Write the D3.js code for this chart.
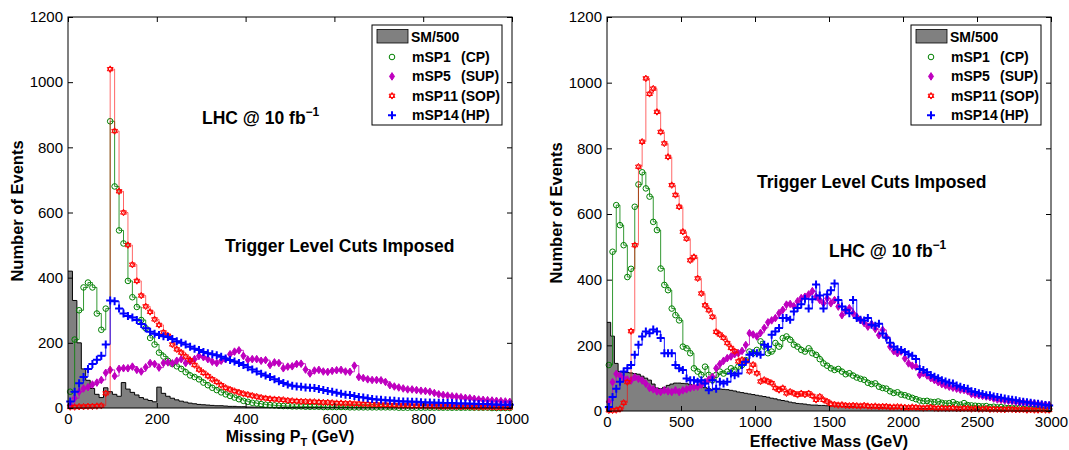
<!DOCTYPE html>
<html>
<head>
<meta charset="utf-8">
<title>Missing PT and Effective Mass</title>
<style>
  body { margin: 0; background: #fff; font-family: "Liberation Sans", Arial, Helvetica, sans-serif; }
  svg { display: block; }
</style>
</head>
<body>
<svg id="chart"></svg>
<script src="https://cdn.jsdelivr.net/npm/d3@7"></script>
<script>
// bin widths in GeV
var ptBinWidth = 10;
var meffBinWidth = 25;

var countTicks = [0, 200, 400, 600, 800, 1000, 1200];
var ptTicks = [0, 200, 400, 600, 800, 1000];
var meffTicks = [0, 500, 1000, 1500, 2000, 2500, 3000];

// Missing PT, 10 GeV bins
var ptSM = [420,330,200,120,85,60,42,32,62,50, 42,36,78,58,48,40,32,27,23,19,
  64,45,36,30,25,21,18,15,13,11, 10,9,8,7,7,6,5,5,4,4, 3,3,3,3,2,2,2,2,2,2,
  1,1,1,1,1,1,1,1,1,1, 1,1,1,1,1,1,1,1,1,1, 1,1,1,1,1,1,1,1,1,1,
  1,1,1,1,1,1,1,1,1,1, 1,1,1,1,1,1,1,1,1,1];
var ptSP1 = [50,210,300,370,385,370,290,240,305,880, 680,545,505,390,340,310,270,245,215,195,
  170,158,145,135,128,120,110,100,95,88, 78,70,62,55,48,42,37,32,27,22,
  19,16,14,12,10,9,8,7,6,6, 5,5,5,4,4,4,4,3,3,3, 3,3,3,2,2,2,2,2,2,2,
  2,2,2,2,1,1,1,1,1,1, 1,1,1,1,1,1,1,1,1,1, 1,1,1,1,1,0,0,0,0,0];
var ptSP5 = [10,30,50,60,64,72,78,86,108,117, 98,120,122,122,127,117,112,125,138,135,
  124,138,140,137,145,150,138,143,150,160, 156,150,142,138,145,150,165,173,177,160,
  148,150,150,145,147,132,140,138,122,127, 128,135,136,118,106,115,117,112,111,114,
  116,117,112,111,130,95,92,88,86,86, 85,80,70,66,63,60,57,57,55,53,
  52,50,46,42,40,38,36,35,33,31, 30,28,26,25,24,23,22,21,20,19];
var ptSP11 = [3,3,4,4,5,5,6,7,45,1040, 850,665,600,500,440,390,345,312,295,272,
  255,232,222,195,180,170,158,147,132,118, 108,98,88,80,70,62,57,52,48,44,
  41,38,35,32,30,28,27,26,25,23, 22,21,20,20,19,19,18,17,17,16,
  15,15,14,14,13,13,12,12,11,11, 10,10,9,9,8,8,8,7,7,7,
  6,6,6,5,5,5,5,4,4,4, 4,3,3,3,3,3,2,2,2,2];
var ptSP14 = [20,50,76,95,120,135,148,160,195,330, 328,305,290,282,278,270,258,245,234,228,
  224,220,218,212,205,200,195,188,182,178, 172,168,165,162,157,152,147,143,138,132,
  125,118,112,105,100,95,88,82,77,72, 68,66,65,63,62,61,58,55,52,50,
  47,44,41,40,37,34,32,30,28,26, 25,24,23,22,21,20,20,19,19,18,
  17,17,16,16,15,15,15,14,14,14, 13,13,12,12,12,11,11,10,10,10];

// Effective mass, 25 GeV bins
var meffSM = [270,228,145,120,118,117,116,114,112,106, 100,94,82,70,68,72,78,82,85,85,
  84,83,80,78,77,74,71,68,66,66, 67,66,65,63,61,58,56,54,52,50,
  48,46,44,42,39,37,34,32,30,27, 25,23,22,21,19,18,18,17,17,16,
  16,15,15,14,14,13,13,12,12,11, 11,11,10,10,10,9,9,9,9,8,
  8,8,8,7,7,7,7,7,6,6, 6,6,6,5,5,5,5,5,5,4,
  4,4,4,4,4,4,3,3,3,3, 3,3,3,3,3,3,2,2,2,2];
var meffSP1 = [140,485,627,566,505,408,433,622,690,727, 678,653,576,551,434,384,368,312,292,276,
  196,191,176,130,120,110,135,110,94,110, 120,114,120,130,125,135,140,155,181,176,
  186,212,196,176,181,207,196,222,227,217, 202,196,186,181,191,176,171,158,145,138,
  130,125,128,120,112,115,108,102,98,95, 86,82,84,74,70,68,60,55,57,50,
  48,44,40,36,32,30,31,28,27,29, 25,23,24,27,21,19,24,18,17,16,
  15,14,15,12,13,11,12,10,9,10, 8,9,7,8,7,6,6,5,6,5];
var meffSP5 = [28,88,113,108,100,96,93,103,98,93, 83,70,66,60,58,63,60,58,63,58,
  63,66,70,73,74,80,88,96,104,130, 143,153,161,166,173,176,183,201,237,233,
  227,238,253,270,276,283,298,308,324,326, 319,334,344,348,355,365,348,338,328,343,
  328,338,318,292,305,313,298,287,277,268, 257,265,250,231,247,225,196,182,176,181,
  160,145,138,135,110,115,108,100,94,88, 82,78,74,71,68,65,64,60,52,50,
  48,46,44,42,38,35,34,32,31,30, 28,27,26,25,24,23,21,20,19,18];
var meffSP11 = [2,2,3,6,25,88,243,505,744,820, 1013,966,982,911,850,815,774,688,658,622,
  546,525,459,469,404,358,322,307,287,241, 233,223,207,192,182,151,156,151,121,141,
  115,90,95,90,85,70,64,70,54,59, 54,49,54,50,54,46,34,44,34,29,
  22,20,18,19,17,16,17,16,15,17, 15,14,15,13,14,14,12,12,13,12,
  11,10,12,11,10,9,10,11,9,8, 9,8,8,9,7,7,8,8,6,7,
  6,6,7,5,6,5,5,4,6,5, 4,4,5,3,4,3,3,4,3,3];
var meffSP14 = [12,43,68,89,120,130,140,171,202,227, 242,237,248,242,222,176,176,176,140,130,
  125,99,94,94,89,94,84,63,94,68, 89,84,89,114,109,114,140,150,171,176,
  176,171,202,196,232,242,253,283,283,278, 303,314,325,342,312,340,385,352,312,355,
  368,388,338,318,308,298,338,283,278,276, 283,263,260,266,236,223,208,196,188,186,
  180,173,168,158,128,125,118,110,104,100, 94,90,86,84,78,74,70,68,60,58,
  54,52,48,48,44,43,40,38,36,34, 33,30,28,27,25,23,22,20,18,17];

var fontFam = "'Liberation Sans', Arial, Helvetica, sans-serif";

var seriesStyle = [
  { name: "mSP1", kind: "(CP)", color: "#008000", marker: "circle", opacity: 0.8 },
  { name: "mSP5", kind: "(SUP)", color: "#bf00bf", marker: "diamond", opacity: 0.8 },
  { name: "mSP11", kind: "(SOP)", color: "#ff0000", marker: "hexagram", opacity: 0.6 },
  { name: "mSP14", kind: "(HP)", color: "#0000ff", marker: "plus", opacity: 0.9 }
];

var panels = [
  { id: "pt", x0: 68, x1: 512, y0: 17, y1: 408, xMax: 1000, xTicks: ptTicks, binW: ptBinWidth,
    sm: ptSM, series: [ptSP1, ptSP5, ptSP11, ptSP14] },
  { id: "meff", x0: 607, x1: 1051, y0: 17, y1: 411, xMax: 3000, xTicks: meffTicks, binW: meffBinWidth,
    sm: meffSM, series: [meffSP1, meffSP5, meffSP11, meffSP14] }
];

var svg = d3.select("#chart").attr("width", 1069).attr("height", 450);
svg.append("rect").attr("width", 1069).attr("height", 450).attr("fill", "#fff");

panels.forEach(function (p) { drawPanel(p); });

function markerPath(kind) {
  if (kind == "diamond") return "M0,-3.8L2.5,0L0,3.8L-2.5,0Z";
  if (kind == "hexagram") return "M0,-3.3L2.9,1.65L-2.9,1.65ZM0,3.3L2.9,-1.65L-2.9,-1.65Z";
  if (kind == "plus") return "M-4,0H4M0,-4V4";
  return null;
}

function addMarkers(sel, s) {
  if (s.marker == "circle") {
    sel.append("circle").attr("r", 2.8)
      .attr("fill", "none").attr("stroke", s.color).attr("stroke-width", 1);
  } else {
    sel.append("path").attr("d", markerPath(s.marker))
      .attr("fill", s.marker == "diamond" ? s.color : "none")
      .attr("stroke", s.color)
      .attr("stroke-width", s.marker == "plus" ? 2 : 1);
  }
}

function drawPanel(p) {
  var x = d3.scaleLinear().domain([0, p.xMax]).range([p.x0, p.x1]);
  var y = d3.scaleLinear().domain([0, 1200]).range([p.y1, p.y0]);
  var g = svg.append("g");

  var clipId = "clip-" + p.id;
  svg.append("clipPath").attr("id", clipId).append("rect")
    .attr("x", p.x0).attr("y", p.y0)
    .attr("width", p.x1 - p.x0).attr("height", p.y1 - p.y0);

  // SM/500 filled stairs
  var smPts = p.sm.map(function (v, i) { return [i * p.binW, v]; });
  smPts.push([p.sm.length * p.binW, p.sm[p.sm.length - 1]]);
  g.append("path").datum(smPts)
    .attr("clip-path", "url(#" + clipId + ")")
    .attr("fill", "#808080")
    .attr("d", d3.area().curve(d3.curveStepAfter)
      .x(function (d) { return x(d[0]); })
      .y0(y(0))
      .y1(function (d) { return y(d[1]); }));
  g.append("path").datum(smPts)
    .attr("clip-path", "url(#" + clipId + ")")
    .attr("fill", "none").attr("stroke", "#000").attr("stroke-width", 1)
    .attr("d", d3.line().curve(d3.curveStepAfter)
      .x(function (d) { return x(d[0]); })
      .y(function (d) { return y(d[1]); }));

  // signal stairs with markers
  seriesStyle.forEach(function (s, k) {
    var pts = p.series[k].map(function (v, i) { return [(i + 0.5) * p.binW, v]; });
    g.append("path").datum(pts)
      .attr("clip-path", "url(#" + clipId + ")")
      .attr("fill", "none").attr("stroke", s.color)
      .attr("stroke-opacity", s.opacity).attr("stroke-width", 1)
      .attr("d", d3.line().curve(d3.curveStepAfter)
        .x(function (d) { return x(d[0]); })
        .y(function (d) { return y(d[1]); }));
    g.append("g").selectAll("g").data(pts).join("g")
      .attr("transform", function (d) { return "translate(" + x(d[0]) + "," + y(d[1]) + ")"; })
      .call(addMarkers, s);
  });

  // axes, ticks pointing inward
  var fmt = d3.format("d");
  var xb = g.append("g").attr("transform", "translate(0," + p.y1 + ")")
    .call(d3.axisBottom(x).tickValues(p.xTicks).tickFormat(fmt)
      .tickSizeInner(-5).tickSizeOuter(0).tickPadding(5));
  var yl = g.append("g").attr("transform", "translate(" + p.x0 + ",0)")
    .call(d3.axisLeft(y).tickValues(countTicks).tickFormat(fmt)
      .tickSizeInner(-5).tickSizeOuter(0).tickPadding(5));
  g.append("g").attr("transform", "translate(0," + p.y0 + ")")
    .call(d3.axisTop(x).tickValues(p.xTicks).tickSizeInner(-5).tickSizeOuter(0).tickFormat(""));
  g.append("g").attr("transform", "translate(" + p.x1 + ",0)")
    .call(d3.axisRight(y).tickValues(countTicks).tickSizeInner(-5).tickSizeOuter(0).tickFormat(""));
  g.selectAll(".domain").remove();
  g.selectAll(".tick line").attr("stroke", "#000");
  [xb, yl].forEach(function (a) {
    a.attr("font-size", 15).attr("font-family", fontFam);
    a.selectAll("text").attr("fill", "#000");
  });

  g.append("rect")
    .attr("x", p.x0).attr("y", p.y0)
    .attr("width", p.x1 - p.x0).attr("height", p.y1 - p.y0)
    .attr("fill", "none").attr("stroke", "#000").attr("stroke-width", 1);

  drawLegend(g, p.x1 - 140, 25);
}

function drawLegend(g, lx, ly) {
  var lg = g.append("g").attr("font-family", fontFam).attr("font-weight", "bold").attr("font-size", 14);
  lg.append("rect").attr("x", lx).attr("y", ly).attr("width", 130).attr("height", 100)
    .attr("fill", "#fff").attr("stroke", "#000").attr("stroke-width", 1);
  lg.append("rect").attr("x", lx + 5).attr("y", ly + 4.5).attr("width", 31).attr("height", 13.5)
    .attr("fill", "#808080").attr("stroke", "#000").attr("stroke-width", 0.8);
  lg.append("text").attr("x", lx + 39).attr("y", ly + 16.5).text("SM/500");
  seriesStyle.forEach(function (s, k) {
    var cy = ly + 32 + k * 19.4;
    lg.append("g").attr("transform", "translate(" + (lx + 20) + "," + cy + ")").call(addMarkers, s);
    var t = lg.append("text").attr("x", lx + 40).attr("y", cy + 5);
    t.append("tspan").text(s.name);
    t.append("tspan").attr("x", lx + 89).text(s.kind);
  });
}

// annotations
function lhcLabel(px, py) {
  var t = svg.append("text").attr("x", px).attr("y", py)
    .attr("font-family", fontFam).attr("font-weight", "bold").attr("font-size", 17.5);
  t.append("tspan").text("LHC @ 10 fb");
  t.append("tspan").attr("font-size", 12).attr("dy", -8).text("\u22121");
}
function triggerLabel(px, py) {
  svg.append("text").attr("x", px).attr("y", py)
    .attr("font-family", fontFam).attr("font-weight", "bold").attr("font-size", 17.5)
    .text("Trigger Level Cuts Imposed");
}
lhcLabel(202, 124);
triggerLabel(225, 252);
lhcLabel(829, 257);
triggerLabel(757, 188);

// axis titles
function yTitle(px, py) {
  svg.append("text").attr("transform", "translate(" + px + "," + py + ") rotate(-90)")
    .attr("text-anchor", "middle")
    .attr("font-family", fontFam).attr("font-weight", "bold").attr("font-size", 16.5)
    .text("Number of Events");
}
yTitle(23, 211);
yTitle(562, 213);

var xt1 = svg.append("text").attr("x", 290).attr("y", 442).attr("text-anchor", "middle")
  .attr("font-family", fontFam).attr("font-weight", "bold").attr("font-size", 16);
xt1.append("tspan").text("Missing P");
xt1.append("tspan").attr("font-size", 11).attr("dy", 4).text("T");
xt1.append("tspan").attr("dy", -4).text(" (GeV)");

svg.append("text").attr("x", 829).attr("y", 447).attr("text-anchor", "middle")
  .attr("font-family", fontFam).attr("font-weight", "bold").attr("font-size", 16)
  .text("Effective Mass (GeV)");
</script>
</body>
</html>
